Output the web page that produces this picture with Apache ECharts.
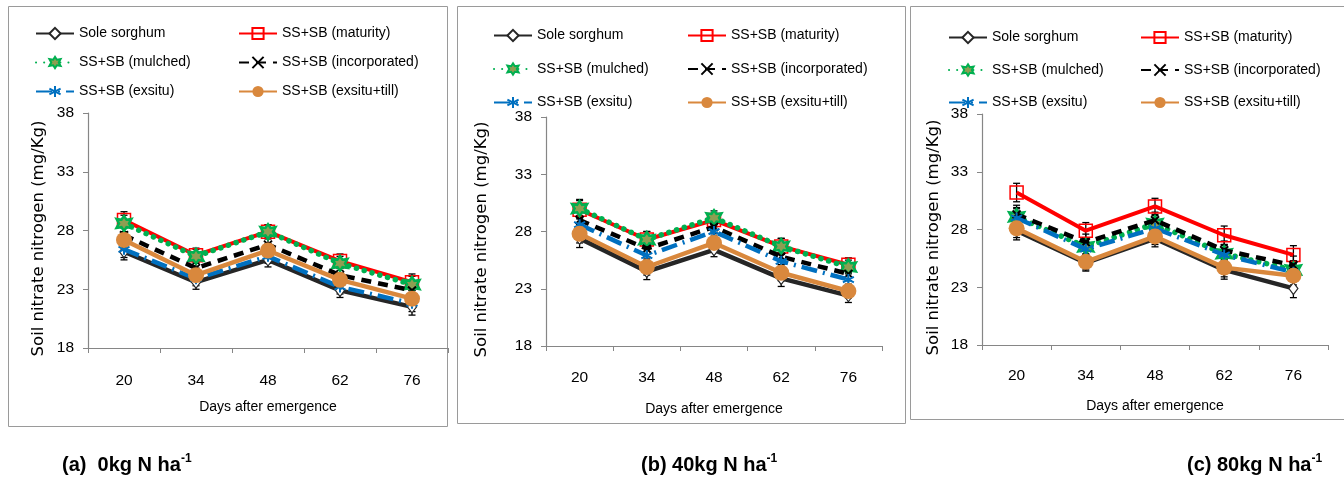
<!DOCTYPE html>
<html><head><meta charset="utf-8">
<script src="https://cdn.jsdelivr.net/npm/echarts@6/dist/echarts.min.js"></script>
<style>html,body{margin:0;padding:0;background:#fff}#c{width:1344px;height:477px}</style>
</head><body><div id="c"></div>
<script>
// ---------------- DATA ----------------
const days = ['20', '34', '48', '62', '76'];
const seriesNames = ['Sole sorghum', 'SS+SB (maturity)', 'SS+SB (mulched)', 'SS+SB (incorporated)', 'SS+SB (exsitu)', 'SS+SB (exsitu+till)'];
const yTicks = [18, 23, 28, 33, 38];
const panelCaptions = ['(a)  0kg N ha', '(b) 40kg N ha', '(c) 80kg N ha'];

// Panel (a) 0 kg N/ha
const a_sole = [26.2, 23.6, 25.5, 22.9, 21.5];
const a_maturity = [28.9, 25.9, 27.9, 25.4, 23.6];
const a_mulched = [28.6, 25.8, 27.9, 25.2, 23.4];
const a_incorporated = [27.6, 24.8, 26.8, 24.2, 22.9];
const a_exsitu = [26.4, 23.9, 25.8, 23.2, 21.8];
const a_exsituTill = [27.2, 24.2, 26.3, 23.8, 22.2];
const a_err = [0.7, 0.6, 0.6, 0.6, 0.7];

// Panel (b) 40 kg N/ha
const b_sole = [27.4, 24.5, 26.4, 23.9, 22.4];
const b_maturity = [29.9, 27.3, 29.0, 26.7, 25.1];
const b_mulched = [30.0, 27.3, 29.2, 26.7, 24.9];
const b_incorporated = [29.0, 26.5, 28.4, 25.8, 24.3];
const b_exsitu = [28.6, 25.9, 28.0, 25.4, 23.8];
const b_exsituTill = [27.8, 24.9, 27.0, 24.4, 22.8];
const b_err = [0.8, 0.7, 0.6, 0.7, 0.6];

// Panel (c) 80 kg N/ha
const c_sole = [27.9, 25.1, 27.2, 24.5, 22.9];
const c_maturity = [31.2, 27.9, 30.0, 27.5, 25.8];
const c_mulched = [29.1, 26.5, 28.5, 25.9, 24.5];
const c_incorporated = [29.3, 26.9, 28.8, 26.2, 24.9];
const c_exsitu = [29.0, 26.3, 28.1, 25.8, 24.3];
const c_exsituTill = [28.1, 25.2, 27.4, 24.7, 24.0];
const c_err = [0.8, 0.7, 0.7, 0.8, 0.8];

// ---------------- STYLE ----------------
const NARROW = "'Liberation Sans Narrow', 'Liberation Sans', Arial, sans-serif";
const SANS = "'DejaVu Sans', 'Liberation Sans', sans-serif";
const styles = [
  { line: { color: '#262626', width: 4.5, type: 'solid' }, symbol: 'diamond', size: [9, 12],
    item: { color: '#ffffff', borderColor: '#262626', borderWidth: 1.2 } },
  { line: { color: '#FF0000', width: 4, type: 'solid' }, symbol: 'rect', size: 13,
    item: { color: 'rgba(255,255,255,0)', borderColor: '#FF0000', borderWidth: 1.5 } },
  { line: { color: '#00B050', width: 5.5, type: [0.1, 8], cap: 'round' },
    symbol: 'path://M0,-10L3,-5L9,-6L6,0L9,6L3,5L0,10L-3,5L-9,6L-6,0L-9,-6L-3,-5Z', size: 15,
    item: { color: '#8E9E52', borderColor: '#00B050', borderWidth: 2.5 } },
  { line: { color: '#000000', width: 4.5, type: [10, 7] }, symbol: 'path://M0,0L10,10M10,0L0,10', size: 8,
    item: { color: 'rgba(0,0,0,0)', borderColor: '#000000', borderWidth: 2 } },
  { line: { color: '#0070C0', width: 4.5, type: [16, 6, 2, 6] },
    symbol: 'path://M5,0L5,10M0.67,2.5L9.33,7.5M0.67,7.5L9.33,2.5', size: 11,
    item: { color: 'rgba(0,0,0,0)', borderColor: '#0070C0', borderWidth: 2 } },
  { line: { color: '#D9883D', width: 4.5, type: 'solid' }, symbol: 'circle', size: 16,
    item: { color: '#D9883D', borderColor: '#D9883D', borderWidth: 0 } }
];

const panels = [
  { data: [a_sole, a_maturity, a_mulched, a_incorporated, a_exsitu, a_exsituTill], err: a_err,
    grid: { left: 88, top: 113, width: 360, height: 235 }, yGap: 41, xGap: 52, lblMargin: 25,
    box: [8.5, 6.5, 439, 420], legendTop: 25, legendGap: 12, col1: 35, col2: 238, cap: [62, 465] },
  { data: [b_sole, b_maturity, b_mulched, b_incorporated, b_exsitu, b_exsituTill], err: b_err,
    grid: { left: 546, top: 117, width: 336, height: 229 }, yGap: 56, xGap: 56, lblMargin: 24,
    box: [457.5, 6.5, 448, 417], legendTop: 27, legendGap: 16.5, col1: 493, col2: 687, cap: [641, 465] },
  { data: [c_sole, c_maturity, c_mulched, c_incorporated, c_exsitu, c_exsituTill], err: c_err,
    grid: { left: 982, top: 114, width: 346, height: 231 }, yGap: 40, xGap: 54, lblMargin: 23,
    box: [910.5, 6.5, 440, 413], legendTop: 29, legendGap: 15.5, col1: 948, col2: 1140, cap: [1187, 465] }
];

const grids = [], xAxes = [], yAxes = [], series = [], legends = [], graphics = [];
const axisGray = '#868686';

function renderErr(params, api) {
  const x = api.value(0);
  const lo = api.coord([x, api.value(1)]);
  const hi = api.coord([x, api.value(2)]);
  const w = 3.5;
  const st = { stroke: '#000', lineWidth: 1.3 };
  return { type: 'group', children: [
    { type: 'line', shape: { x1: lo[0], y1: lo[1], x2: hi[0], y2: hi[1] }, style: st },
    { type: 'line', shape: { x1: lo[0] - w, y1: lo[1], x2: lo[0] + w, y2: lo[1] }, style: st },
    { type: 'line', shape: { x1: hi[0] - w, y1: hi[1], x2: hi[0] + w, y2: hi[1] }, style: st }
  ] };
}

panels.forEach((p, pi) => {
  graphics.push({ type: 'rect', shape: { x: p.box[0], y: p.box[1], width: p.box[2], height: p.box[3] },
    style: { fill: 'none', stroke: '#9a9a9a', lineWidth: 1 }, z: 0 });
  grids.push(p.grid);
  xAxes.push({
    type: 'category', gridIndex: pi, data: days, boundaryGap: true,
    name: 'Days after emergence', nameLocation: 'middle', nameGap: p.xGap,
    nameTextStyle: { fontFamily: NARROW, fontSize: 14, color: '#000' },
    axisLine: { lineStyle: { color: axisGray, width: 1.2 } },
    axisTick: { show: true, length: 5, interval: 0, lineStyle: { color: axisGray } },
    axisLabel: { fontFamily: NARROW, fontSize: 15.5, color: '#000', margin: p.lblMargin },
    splitLine: { show: false }
  });
  yAxes.push({
    type: 'value', gridIndex: pi, min: yTicks[0], max: yTicks[yTicks.length - 1], interval: 5,
    name: 'Soil nitrate nitrogen (mg/Kg)', nameLocation: 'middle', nameGap: p.yGap,
    nameTextStyle: { fontFamily: SANS, fontSize: 16.5, color: '#000', padding: [0, 16, 0, 0] },
    axisLine: { show: true, lineStyle: { color: axisGray, width: 1.2 } },
    axisTick: { show: true, length: 5, lineStyle: { color: axisGray } },
    axisLabel: { fontFamily: NARROW, fontSize: 15.5, color: '#000', margin: 14 },
    splitLine: { show: false }
  });
  // error bars
  const errData = [];
  p.data.forEach(vals => {
    vals.forEach((v, i) => errData.push([i, +(v - p.err[i]).toFixed(2), +(v + p.err[i]).toFixed(2)]));
  });
  series.push({ type: 'custom', name: 'err' + pi, xAxisIndex: pi, yAxisIndex: pi, data: errData,
    renderItem: renderErr, encode: { x: 0, y: [1, 2] }, z: 1, silent: true });
  p.data.forEach((vals, si) => {
    const s = styles[si];
    series.push({
      type: 'line', name: seriesNames[si], xAxisIndex: pi, yAxisIndex: pi, data: vals,
      symbol: s.symbol, symbolSize: s.size, showAllSymbol: true,
      lineStyle: Object.assign({}, s.line),
      itemStyle: Object.assign({}, s.item),
      z: 2 + si, animation: false
    });
  });
  const legBase = {
    orient: 'vertical', top: p.legendTop, itemGap: p.legendGap, itemWidth: 38, itemHeight: 14, padding: 0,
    textStyle: { fontFamily: NARROW, fontSize: 14, color: '#000', lineHeight: 17 },
    selectedMode: false
  };
  legends.push(Object.assign({}, legBase, { left: p.col1, data: [seriesNames[0], seriesNames[2], seriesNames[4]] }));
  legends.push(Object.assign({}, legBase, { left: p.col2, data: [seriesNames[1], seriesNames[3], seriesNames[5]] }));
  graphics.push({ type: 'text', x: p.cap[0], y: p.cap[1],
    style: { text: '{m|' + panelCaptions[pi] + '}{s|-1}', verticalAlign: 'middle', align: 'left',
      rich: {
        m: { fontFamily: "'Liberation Sans', Arial, sans-serif", fontWeight: 'bold', fontSize: 20, lineHeight: 24, fill: '#000' },
        s: { fontFamily: "'Liberation Sans', Arial, sans-serif", fontWeight: 'bold', fontSize: 12, lineHeight: 12, verticalAlign: 'top', fill: '#000' }
      } } });
});

const chart = echarts.init(document.getElementById('c'), null, { renderer: 'canvas' });
chart.setOption({
  animation: false,
  backgroundColor: '#fff',
  grid: grids, xAxis: xAxes, yAxis: yAxes, series: series, legend: legends,
  graphic: graphics
});
</script></body></html>
